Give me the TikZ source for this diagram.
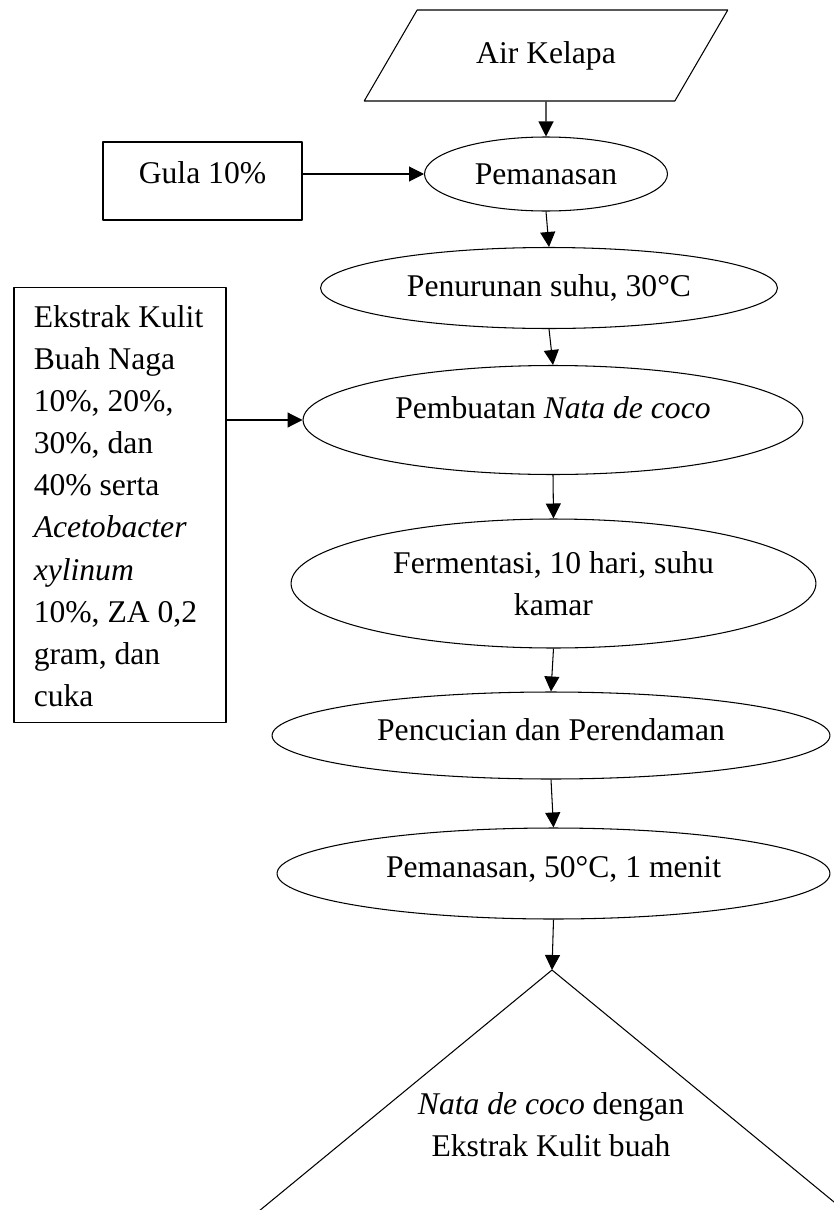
\documentclass[tikz,border=0pt]{standalone}
\usepackage{fontspec}
\setmainfont{Liberation Serif}
\usetikzlibrary{shapes.geometric,arrows.meta}
\begin{document}
\begin{tikzpicture}[x=0.02cm,y=-0.02cm,line join=round,line width=0.6pt,
	>={Triangle[length=0.3cm,width=0.3cm]},font=\fontsize{18}{24}\selectfont,
	proses/.style={draw,ellipse,inner sep=0pt},
	kotak/.style={draw,rectangle,inner sep=0pt}]
	
	\useasboundingbox (0,0) rectangle (834,1210);
	\clip (0,0) rectangle (834,1210);
	
	\node[draw,trapezium,trapezium left angle=45,trapezium right angle=135,trapezium stretches=true,
	minimum width=7.28cm,minimum height=1.82cm,inner sep=0pt] (air) at (546,55.5) {Air Kelapa};
	\node[proses,minimum width=4.86cm,minimum height=1.48cm] (panas) at (546,174) {Pemanasan};
	\node[kotak,minimum width=3.98cm,text height=0.82cm,text depth=0.74cm] (gula) at (202.5,181) {Gula 10\%};
	\node[proses,minimum width=9.14cm,minimum height=1.62cm] (turun) at (549,288) {Penurunan suhu, 30°C};
	\node[proses,minimum width=10cm,minimum height=2.18cm,text depth=0.48cm] (buat) at (553,420) {Pembuatan \textit{Nata de coco}};
	\node[proses,minimum width=10.5cm,minimum height=2.58cm,align=center] (ferm) at (553.5,583.5) {Fermentasi, 10 hari, suhu\\kamar};
	\node[proses,minimum width=11.16cm,minimum height=1.74cm,text depth=0.24cm] (cuci) at (551,735.5) {Pencucian dan Perendaman};
	\node[proses,minimum width=11.06cm,minimum height=1.82cm,text depth=0.26cm] (panas2) at (553.5,873.5) {Pemanasan, 50°C, 1 menit};
	\node[kotak,text width=3.45cm,inner xsep=0.395cm,align=flush left,text height=0.8cm,text depth=7.92cm] (ekstrak) at (120,505)
	{Ekstrak Kulit\\Buah Naga\\10\%, 20\%,\\30\%, dan\\40\% serta\\\textit{Acetobacter}\\\textit{xylinum}\\10\%, ZA 0,2\\gram, dan\\cuka};
	
	\coordinate (hasil) at (552,970);
	\draw (hasil) -- ++(-310,255) (hasil) -- ++(310,255);
	\node[align=center] (teks) at (551,1125) {\textit{Nata de coco} dengan\\Ekstrak Kulit buah};
	
	\draw[->] (air.south) -- (panas.north);
	\draw[->] (gula.east |- panas.west) -- (panas.west);
	\draw[->] (ekstrak.east |- buat.west) -- (buat.west);
	\foreach \a/\b in {panas/turun,turun/buat,buat/ferm,ferm/cuci,cuci/panas2}
	\draw[->] (\a.south) -- (\b.north);
	\draw[->] (panas2.south) -- (hasil);
\end{tikzpicture}
\end{document}
